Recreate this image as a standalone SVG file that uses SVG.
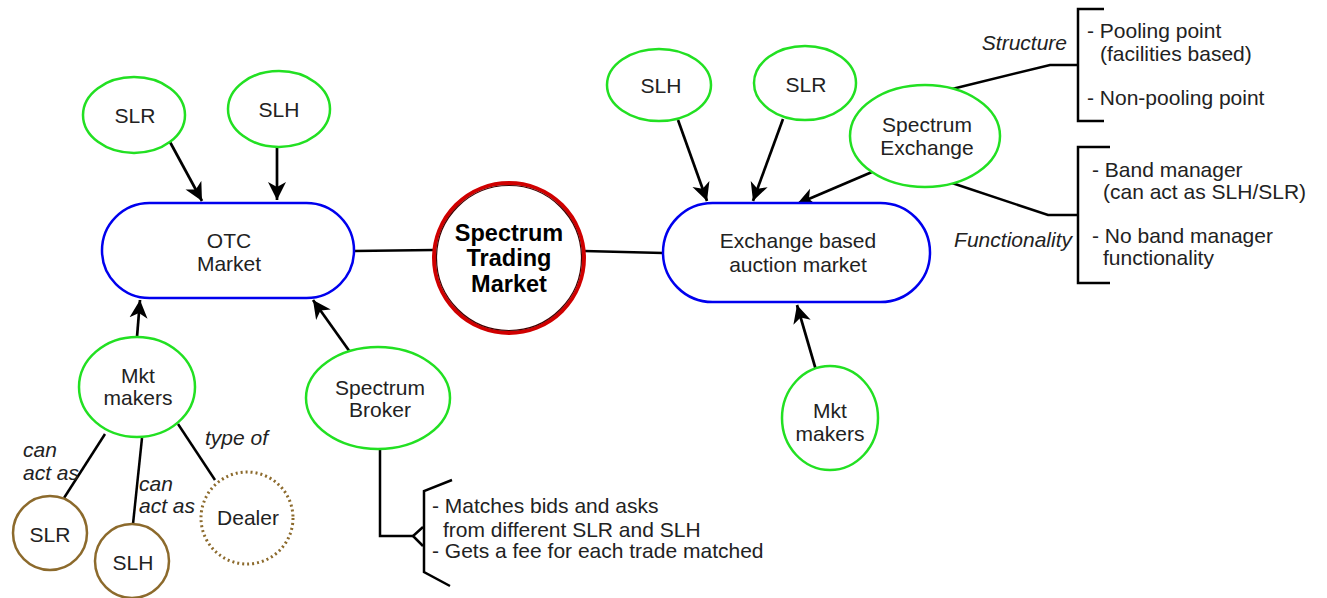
<svg xmlns="http://www.w3.org/2000/svg" width="1327" height="598" viewBox="0 0 1327 598">
<style>
text{font-family:"Liberation Sans",Arial,sans-serif;font-size:21px;fill:#222}
.c{text-anchor:middle}
.i{font-style:italic}
.t{font-weight:bold;font-size:23.5px;fill:#000}
.g{fill:#fff;stroke:#22e022;stroke-width:2.5}
.b{fill:#fff;stroke:#0000ee;stroke-width:2.5}
.br{fill:#fff;stroke:#8c6a2c;stroke-width:2.5}
.ln{fill:none;stroke:#000;stroke-width:2.5}
.ar{fill:none;stroke:#000;stroke-width:2.7;marker-end:url(#a)}
</style>
<defs>
<marker id="a" markerUnits="userSpaceOnUse" markerWidth="20" markerHeight="20" viewBox="0 0 20 20" refX="18" refY="10" orient="auto">
<path d="M0,1 L18,10 L0,19 L5,10 z" fill="#000"/>
</marker>
</defs>
<g id="connectors">
<line class="ar" x1="170" y1="142" x2="202" y2="201"/>
<line class="ar" x1="277" y1="147" x2="277" y2="200"/>
<line class="ar" x1="137" y1="337" x2="140" y2="300"/>
<line class="ar" x1="350" y1="352" x2="313" y2="300"/>
<line class="ln" x1="354" y1="251" x2="434" y2="250"/>
<line class="ln" x1="584" y1="251" x2="663" y2="253"/>
<line class="ar" x1="678" y1="120" x2="707" y2="201"/>
<line class="ar" x1="783" y1="119" x2="753" y2="201"/>
<line class="ar" x1="872" y1="172" x2="797" y2="204"/>
<line class="ar" x1="818" y1="377" x2="797" y2="305"/>
<line class="ln" x1="105" y1="434" x2="64" y2="498"/>
<line class="ln" x1="142" y1="438" x2="133" y2="524"/>
<line class="ln" x1="178" y1="424" x2="215" y2="480"/>
<polyline class="ln" points="380,449 380,536 413,536"/>
<polyline class="ln" points="423,527 413,536 423,546"/>
<polyline class="ln" points="452,480 424,491 424,572 450,586"/>
<polyline class="ln" points="952,89 1050,65 1078,65"/>
<polyline class="ln" points="1104,9 1078,9 1078,121 1104,121"/>
<polyline class="ln" points="952,183 1048,215 1078,215"/>
<polyline class="ln" points="1110,147 1078,147 1078,283 1110,283"/>
</g>
<g id="otc">
<rect class="b" x="102" y="203" width="252" height="95" rx="47.5"/>
<text class="c" x="229" y="248">OTC</text>
<text class="c" x="229" y="271">Market</text>
</g>
<g id="stm">
<circle cx="509" cy="258" r="75" fill="#fff" stroke="#d00000" stroke-width="4"/>
<circle cx="509" cy="258" r="72.5" fill="none" stroke="#400000" stroke-width="1.2"/>
<text class="c t" x="509" y="241">Spectrum</text>
<text class="c t" x="509" y="266">Trading</text>
<text class="c t" x="509" y="292">Market</text>
</g>
<g id="exch">
<rect class="b" x="663" y="203" width="267" height="99" rx="49.5"/>
<text class="c" x="798" y="248">Exchange based</text>
<text class="c" x="798" y="272">auction market</text>
</g>
<g id="slr-left">
<ellipse class="g" cx="134" cy="115" rx="51" ry="38"/>
<text class="c" x="135" y="123">SLR</text>
</g>
<g id="slh-left">
<ellipse class="g" cx="279" cy="109" rx="51" ry="38"/>
<text class="c" x="279" y="117">SLH</text>
</g>
<g id="mkt-left">
<ellipse class="g" cx="137" cy="387" rx="58" ry="50"/>
<text class="c" x="138" y="383">Mkt</text>
<text class="c" x="138" y="405">makers</text>
</g>
<g id="broker">
<ellipse class="g" cx="378" cy="398" rx="72" ry="51"/>
<text class="c" x="380" y="395">Spectrum</text>
<text class="c" x="380" y="417">Broker</text>
</g>
<g id="slh-right">
<ellipse class="g" cx="659" cy="85" rx="52" ry="36"/>
<text class="c" x="661" y="93">SLH</text>
</g>
<g id="slr-right">
<ellipse class="g" cx="805" cy="83" rx="51" ry="37"/>
<text class="c" x="806" y="92">SLR</text>
</g>
<g id="spec-exch">
<ellipse class="g" cx="925" cy="136" rx="75" ry="51"/>
<text class="c" x="927" y="132">Spectrum</text>
<text class="c" x="927" y="155">Exchange</text>
</g>
<g id="mkt-right">
<ellipse class="g" cx="830" cy="418" rx="48" ry="52"/>
<text class="c" x="830" y="418">Mkt</text>
<text class="c" x="830" y="441">makers</text>
</g>
<g id="slr-brown">
<circle class="br" cx="50" cy="533" r="37"/>
<text class="c" x="50" y="542">SLR</text>
</g>
<g id="slh-brown">
<circle class="br" cx="132" cy="561" r="37"/>
<text class="c" x="133" y="570">SLH</text>
</g>
<g id="dealer">
<circle cx="247" cy="518" r="46" fill="#fff" stroke="#8c6a2c" stroke-width="3" stroke-dasharray="2 3"/>
<text class="c" x="248" y="525">Dealer</text>
</g>
<g id="labels">
<text class="i" x="23" y="457">can</text>
<text class="i" x="23" y="480">act as</text>
<text class="i" x="139" y="491">can</text>
<text class="i" x="139" y="513">act as</text>
<text class="i" x="205" y="445">type of</text>
<text x="432" y="513">- Matches bids and asks</text>
<text x="443" y="537">from different SLR and SLH</text>
<text x="432" y="558">- Gets a fee for each trade matched</text>
<text class="i" x="1067" y="50" text-anchor="end">Structure</text>
<text x="1087" y="38">- Pooling point</text>
<text x="1100" y="61">(facilities based)</text>
<text x="1087" y="105">- Non-pooling point</text>
<text class="i" x="1072" y="247" text-anchor="end">Functionality</text>
<text x="1092" y="177">- Band manager</text>
<text x="1103" y="199">(can act as SLH/SLR)</text>
<text x="1092" y="243">- No band manager</text>
<text x="1103" y="265">functionality</text>
</g>
</svg>
